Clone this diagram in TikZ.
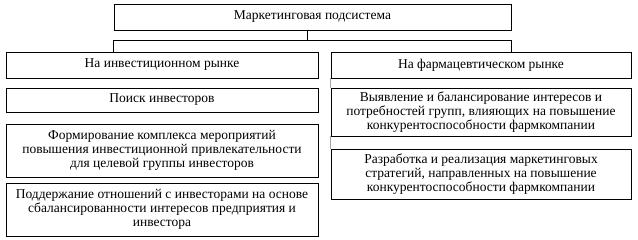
\documentclass[tikz,border=0pt]{standalone}
\usepackage{fontspec}
\setmainfont{Liberation Serif}[Ligatures=TeX]
\newfontfamily\boxfont{Liberation Serif}
\begin{document}
\begin{tikzpicture}[x=1pt,y=-1pt,
  box/.style={draw,line width=0.8pt,inner sep=1pt,align=center,font=\boxfont\fontsize{13.5}{14}\selectfont},
  conn/.style={line width=0.8pt},
  faint/.style={line width=0.8pt,draw=black!35}]
\useasboundingbox (0,0) rectangle (638,239);
\fill[white] (0,0) rectangle (638,239);
\node[box,minimum width=397pt,minimum height=26pt] (top) at (312.5,17) {Маркетинговая подсистема};
\node[box,minimum width=312pt,minimum height=26pt] (lh) at (162,65) {На инвестиционном рынке};
\node[box,minimum width=300pt,minimum height=26pt] (rh) at (481,65) {На фармацевтическом рынке};
\node[box,minimum width=312pt,minimum height=24pt] (l1) at (162,100) {Поиск инвесторов};
\node[box,minimum width=312pt,minimum height=53pt] (l2) at (162,150.5) {Формирование комплекса мероприятий\\повышения инвестиционной привлекательности\\для целевой группы инвесторов};
\node[box,minimum width=312pt,minimum height=53pt] (l3) at (162,209.5) {Поддержание отношений с инвесторами на основе\\сбалансированности интересов предприятия и\\инвестора};
\node[box,minimum width=300pt,minimum height=48pt] (r1) at (481,112) {Выявление и балансирование интересов и\\потребностей групп, влияющих на повышение\\конкурентоспособности фармкомпании};
\node[box,minimum width=300pt,minimum height=50pt] (r2) at (481,174) {Разработка и реализация маркетинговых\\стратегий, направленных на повышение\\конкурентоспособности фармкомпании};
\coordinate (jt) at (307,40);
\coordinate (jl) at (top.south west |- jt);
\coordinate (jr) at (top.south east |- jt);
\draw[conn] (top.south -| jt) -- (jt);
\draw[conn] (jl) -- (jr);
\draw[conn] (jl) -- (jl |- lh.north);
\draw[conn] (jr) -- (jr |- rh.north);
\draw[faint] (rh.south west) -- (r1.north west);
\draw[faint] (r1.south west) -- (r2.north west);
\end{tikzpicture}
\end{document}
